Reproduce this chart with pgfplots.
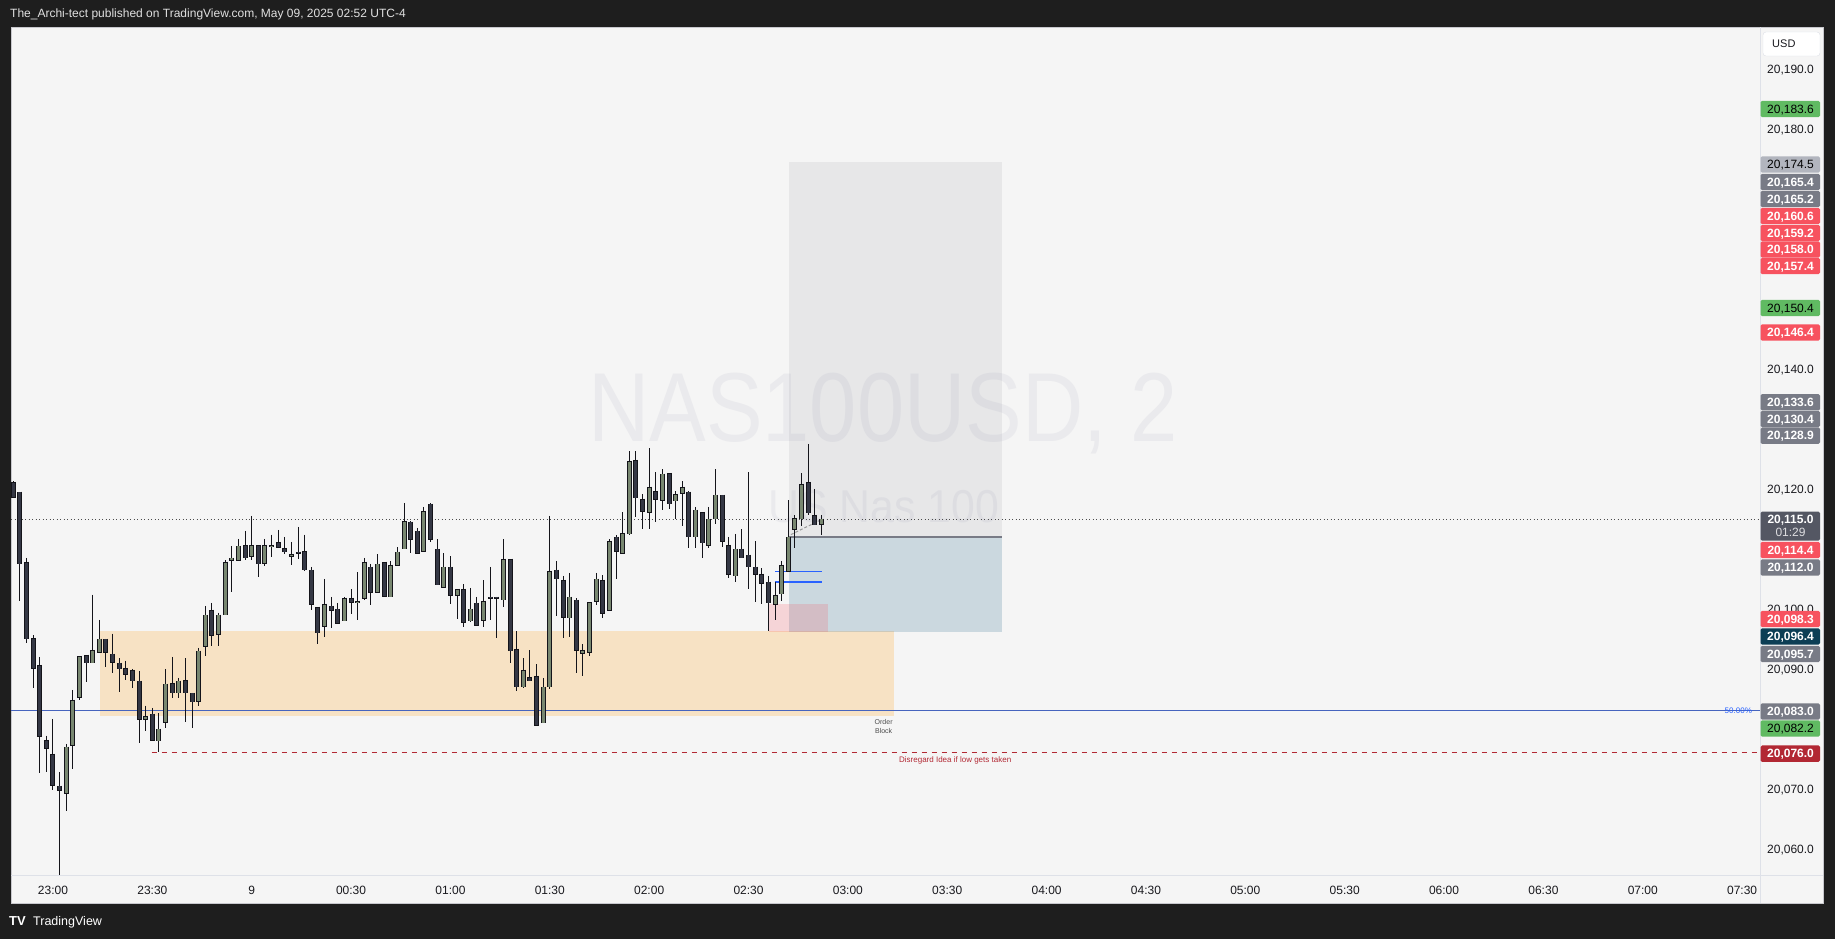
\documentclass[border=0pt]{standalone}
\usepackage{fontspec}
\setmainfont{Liberation Sans}
\usepackage{pgfplots}
\usepackage{pgfplotstable}
\pgfplotsset{compat=1.18}
\pgfplotsset{/pgf/number format/assume math mode=true}

\definecolor{tvdark}{RGB}{30,30,30}
\definecolor{panel}{RGB}{245,245,245}
\definecolor{sepline}{RGB}{222,225,232}
\definecolor{ticktext}{RGB}{25,25,30}
\definecolor{bull}{RGB}{120,135,112}
\definecolor{bear}{RGB}{52,55,68}
\definecolor{wick}{RGB}{20,20,26}
\definecolor{lblgreen}{RGB}{96,186,98}
\definecolor{lblred}{RGB}{247,82,95}
\definecolor{lblgray}{RGB}{120,123,134}
\definecolor{lbllight}{RGB}{178,181,190}
\definecolor{lblcur}{RGB}{84,87,99}
\definecolor{lblteal}{RGB}{12,62,85}
\definecolor{lbldred}{RGB}{178,40,51}
\definecolor{tvblue}{RGB}{41,98,255}
\definecolor{fibline}{RGB}{70,100,190}
\definecolor{stopzone}{RGB}{80,130,160}
\definecolor{obzone}{RGB}{255,152,0}
\definecolor{watermark}{RGB}{234,234,237}

% 2-minute candles, n = candle index (0 = 23:00)
\pgfplotstableread{
n o h l c
-6 20121.1 20121.3 20118.6 20118.6
-5 20119.5 20119.5 20101.3 20107.5
-4 20107.8 20108.5 20094.4 20095.0
-3 20095.1 20095.6 20086.9 20090.1
-2 20090.6 20092.0 20072.6 20078.8
-1 20078.1 20078.9 20072.9 20076.8
0 20075.8 20081.7 20069.9 20070.6
1 20070.5 20072.8 20055.6 20069.8
2 20069.3 20077.5 20066.3 20077.0
3 20077.3 20086.5 20073.4 20084.8
4 20085.3 20092.1 20084.9 20092.1
5 20092.3 20092.3 20087.8 20091.0
6 20091.0 20102.4 20091.0 20093.1
7 20092.8 20098.2 20092.8 20095.0
8 20095.0 20095.0 20090.4 20092.8
9 20092.5 20095.9 20089.3 20091.1
10 20091.0 20091.8 20086.1 20090.0
11 20090.1 20091.4 20088.1 20089.1
12 20089.8 20090.0 20086.8 20088.0
13 20088.0 20089.7 20077.6 20081.5
14 20081.6 20083.9 20079.6 20082.1
15 20082.5 20083.5 20078.1 20078.1
16 20078.0 20082.6 20076.1 20080.0
17 20081.1 20090.0 20080.1 20087.5
18 20087.6 20092.0 20085.1 20086.0
19 20086.0 20088.5 20085.1 20088.0
20 20088.1 20091.8 20081.1 20086.0
21 20086.0 20086.0 20080.1 20084.5
22 20084.6 20093.5 20083.8 20093.0
23 20093.8 20100.5 20092.1 20099.0
24 20099.8 20101.0 20093.9 20095.6
25 20095.8 20099.4 20093.8 20099.0
26 20099.0 20108.1 20099.0 20107.8
27 20108.0 20110.5 20102.9 20108.5
28 20108.1 20111.7 20108.1 20110.5
29 20110.6 20113.0 20108.1 20108.5
30 20108.8 20115.5 20108.1 20110.6
31 20110.6 20110.6 20105.3 20107.5
32 20107.6 20111.7 20107.1 20110.6
33 20110.4 20112.4 20108.6 20110.6
34 20111.1 20113.2 20110.3 20110.3
35 20110.1 20112.0 20109.1 20109.5
36 20108.8 20111.2 20107.3 20109.1
37 20109.5 20113.7 20108.4 20109.3
38 20109.6 20112.4 20106.3 20106.5
39 20106.5 20107.0 20099.8 20100.8
40 20100.3 20100.3 20094.1 20096.0
41 20097.1 20105.0 20095.4 20100.8
42 20100.5 20102.0 20096.9 20099.8
43 20100.0 20101.0 20097.6 20097.6
44 20098.0 20102.0 20098.0 20101.8
45 20101.8 20103.3 20099.1 20101.1
46 20101.0 20106.1 20098.1 20101.3
47 20101.8 20108.5 20101.5 20107.8
48 20107.0 20107.5 20100.6 20102.8
49 20102.8 20109.1 20102.6 20107.5
50 20107.8 20107.8 20102.1 20102.1
51 20102.0 20108.0 20102.0 20107.3
52 20107.3 20110.3 20107.1 20109.5
53 20110.0 20117.7 20110.0 20114.6
54 20114.5 20114.6 20109.3 20111.6
55 20113.0 20113.5 20109.3 20109.3
56 20109.6 20117.0 20109.5 20116.3
57 20117.5 20117.6 20111.1 20111.6
58 20110.0 20111.6 20104.0 20104.0
59 20103.5 20109.3 20103.5 20107.0
60 20107.0 20108.8 20100.8 20102.3
61 20102.3 20103.3 20098.4 20103.3
62 20103.3 20104.1 20097.0 20097.8
63 20098.0 20103.5 20097.8 20100.0
64 20101.0 20102.0 20097.1 20097.3
65 20098.1 20104.8 20097.0 20101.3
66 20102.0 20107.0 20098.1 20101.8
67 20102.0 20102.0 20095.1 20101.8
68 20101.5 20111.6 20100.3 20108.3
69 20108.3 20108.3 20091.0 20093.0
70 20093.3 20096.3 20086.3 20087.0
71 20087.0 20091.8 20086.8 20089.8
72 20088.6 20093.1 20088.0 20088.0
73 20088.8 20090.8 20080.6 20080.6
74 20081.0 20088.5 20081.0 20087.0
75 20087.0 20115.5 20086.6 20106.3
76 20106.5 20108.0 20098.9 20105.0
77 20104.8 20105.5 20095.1 20098.6
78 20098.5 20106.0 20095.3 20102.0
79 20101.5 20101.8 20089.3 20093.1
80 20092.6 20094.1 20088.8 20093.1
81 20092.8 20101.1 20092.1 20101.1
82 20101.3 20106.0 20100.6 20105.0
83 20104.8 20105.6 20098.5 20099.3
84 20099.8 20111.6 20099.8 20111.3
85 20112.0 20112.3 20105.0 20109.6
86 20109.3 20116.1 20109.3 20112.6
87 20112.5 20126.3 20112.3 20124.6
88 20124.8 20126.3 20115.3 20118.5
89 20118.3 20119.1 20113.3 20116.3
90 20116.1 20126.8 20113.3 20120.3
91 20119.6 20122.8 20114.5 20118.3
92 20118.1 20123.3 20116.5 20122.5
93 20122.6 20122.6 20116.6 20117.5
94 20118.0 20119.6 20115.0 20119.1
95 20119.3 20121.3 20113.8 20120.3
96 20119.5 20119.6 20110.1 20112.0
97 20112.0 20117.0 20110.1 20116.5
98 20116.1 20116.1 20108.5 20111.0
99 20110.6 20117.0 20110.1 20115.0
100 20115.0 20123.3 20114.1 20119.0
101 20119.0 20119.0 20110.3 20111.3
102 20110.6 20112.0 20105.1 20105.8
103 20105.5 20112.5 20104.5 20110.0
104 20110.0 20113.3 20108.5 20108.5
105 20109.0 20122.8 20103.3 20107.0
106 20107.0 20111.3 20101.1 20105.8
107 20105.8 20106.8 20100.8 20104.3
108 20104.5 20105.5 20096.4 20101.0
109 20100.8 20104.5 20098.1 20102.3
110 20102.5 20108.0 20101.3 20107.3
111 20106.3 20118.1 20106.3 20112.0
112 20113.3 20115.6 20110.1 20115.1
113 20115.0 20122.6 20113.8 20120.8
114 20121.1 20127.5 20115.6 20116.0
115 20115.6 20120.0 20114.0 20114.0
116 20114.1 20115.6 20112.3 20115.0
}\candles

\newcommand{\plfont}{\fontsize{12}{14}\selectfont}
% price label box on the right scale: y centre (pt), fill, text colour, text
\newcommand{\plabel}[4]{%
  \fill[#2, rounded corners=1.5pt] (1760.5pt,{#1pt-8.2pt}) rectangle (1820pt,{#1pt+8.2pt});
  \node[anchor=base, inner sep=0pt, text=#3, font=\plfont] at (1790.5pt,{#1pt-4.3pt}) {#4};}

\pgfplotsset{candle/.style={draw=none, mark=none, forget plot,
  error bars/.cd, y dir=minus, y explicit, error mark=none}}

\begin{document}
\begin{tikzpicture}
\fill[tvdark] (0pt,0pt) rectangle (1835pt,939pt);
\filldraw[fill=panel, draw={rgb,255:red,200;green,200;blue,205}, line width=0.8pt] (11pt,36pt) rectangle (1823pt,912pt);

\begin{axis}[
  at={(11pt,63pt)}, anchor=south west,
  scale only axis, width=1749pt, height=849pt,
  xmin=-6.34, xmax=257.7, ymin=20055.5, ymax=20197.0,
  scaled x ticks=false, scaled y ticks=false,
  axis line style={draw=none},
  tick style={draw=none},
  ticklabel style={font=\plfont, text=ticktext, text height=8.6pt, text depth=0pt},
  xtick={0,15,...,255},
  xticklabels={23:00,23:30,9,00:30,01:00,01:30,02:00,02:30,03:00,03:30,04:00,04:30,05:00,05:30,06:00,06:30,07:00,07:30},
  xticklabel style={anchor=center, yshift=-14pt},
  % only the scale values that the price labels leave visible
  ytick={20060,20070,20090,20100,20120,20140,20180,20190},
  yticklabels={{20,060.0},{20,070.0},{20,090.0},{20,100.0},{20,120.0},{20,140.0},{20,180.0},{20,190.0}},
  yticklabel pos=right,
  yticklabel style={anchor=center, xshift=30.5pt},
]
% watermark
\node[anchor=base, inner sep=0pt, text=watermark, font=\fontsize{98}{100}\selectfont]
  at (axis cs:125.3,20127.9) {\scalebox{0.866}[1]{NAS100USD, 2}};
\node[anchor=base, inner sep=0pt, text=watermark, font=\fontsize{46}{48}\selectfont]
  at (axis cs:125.4,20114.4) {\scalebox{0.93}[1]{US Nas 100}};

% order block zone
\addplot[draw=none, fill=obzone, fill opacity=0.2] coordinates {(7.1,20082.2) (126.9,20082.2) (126.9,20096.4) (7.1,20096.4)} -- cycle;
% position tool: target and stop zones
\addplot[draw=none, fill=lblgray, fill opacity=0.11] coordinates {(111.1,20112.0) (143.2,20112.0) (143.2,20174.5) (111.1,20174.5)} -- cycle;
\addplot[draw=none, fill=stopzone, fill opacity=0.25] coordinates {(111.1,20096.2) (143.2,20096.2) (143.2,20112.0) (111.1,20112.0)} -- cycle;
\addplot[draw=none, fill=lblred, fill opacity=0.2] coordinates {(108.1,20096.2) (117.0,20096.2) (117.0,20100.9) (108.1,20100.9)} -- cycle;

% horizontal lines
\addplot[fibline, line width=1pt] coordinates {(-6.34,20083.0) (257.7,20083.0)};
\addplot[lbldred, line width=1pt, dash pattern=on 5pt off 5pt] coordinates {(14.9,20076.0) (257.7,20076.0)};
\addplot[black!70, line width=0.9pt, dash pattern=on 1pt off 2.5pt] coordinates {(-6.34,20115.0) (257.7,20115.0)};
\addplot[lblgray, line width=1.3pt] coordinates {(111.1,20112.0) (143.2,20112.0)};
\addplot[tvblue, line width=1.2pt] coordinates {(109.0,20106.3) (116.1,20106.3)};
\addplot[tvblue, line width=1.2pt] coordinates {(109.0,20104.5) (116.1,20104.5)};
\addplot[black!40, line width=1pt, dash pattern=on 3pt off 2pt] coordinates {(111.4,20112.4) (116.0,20114.9)};

% wicks
\addplot[candle, error bar style={line width=1pt, draw=wick}]
  table[x=n, y=h, y error expr=\thisrow{h}-\thisrow{l}] {\candles};
% bodies: up candles
\addplot[restrict expr to domain={\thisrow{c}-\thisrow{o}}{0:1000},
  candle, error bar style={line width=5pt, draw=wick}]
  table[x=n, y expr=\thisrow{c}+0.08, y error expr=\thisrow{c}-\thisrow{o}+0.16] {\candles};
\addplot[restrict expr to domain={\thisrow{c}-\thisrow{o}}{0:1000},
  candle, error bar style={line width=3pt, draw=bull}]
  table[x=n, y expr=\thisrow{c}-0.08, y error expr={max(\thisrow{c}-\thisrow{o}-0.16,0)}] {\candles};
% bodies: down candles
\addplot[restrict expr to domain={\thisrow{o}-\thisrow{c}}{0.0001:1000},
  candle, error bar style={line width=5pt, draw=wick}]
  table[x=n, y expr=\thisrow{o}+0.08, y error expr=\thisrow{o}-\thisrow{c}+0.16] {\candles};
\addplot[restrict expr to domain={\thisrow{o}-\thisrow{c}}{0.0001:1000},
  candle, error bar style={line width=3pt, draw=bear}]
  table[x=n, y expr=\thisrow{o}-0.08, y error expr={max(\thisrow{o}-\thisrow{c}-0.16,0)}] {\candles};

% annotations
\node[anchor=north, inner sep=0pt, align=center, text=black!70, font=\fontsize{7}{8.5}\selectfont]
  at (axis cs:125.4,20081.6) {Order\\Block};
\node[inner sep=0pt, text=lbldred, font=\fontsize{8}{9}\selectfont]
  at (axis cs:136.2,20074.7) {Disregard Idea if low gets taken};
\node[anchor=east, inner sep=0pt, text=tvblue, font=\fontsize{8}{9}\selectfont]
  at (axis cs:256.5,20083.0) {50.00\%};
\end{axis}

% pane separators
\draw[sepline, line width=1pt] (1760pt,36pt) -- (1760pt,912pt);
\draw[sepline, line width=1pt] (11pt,63pt) -- (1823pt,63pt);

% currency box
\filldraw[fill=white, draw=sepline, rounded corners=3pt] (1763pt,883pt) rectangle (1820pt,907pt);
\node[anchor=base west, inner sep=0pt, text=ticktext, font=\fontsize{11}{12}\selectfont] at (1772pt,891pt) {USD};

% price labels on the scale
\plabel{830}{lblgreen}{black}{20,183.6}
\plabel{774.5}{lbllight}{black}{20,174.5}
\plabel{757}{lblgray}{white}{\bfseries 20,165.4}
\plabel{740}{lblgray}{white}{\bfseries 20,165.2}
\plabel{723}{lblred}{white}{\bfseries 20,160.6}
\plabel{706}{lblred}{white}{\bfseries 20,159.2}
\plabel{689.5}{lblred}{white}{\bfseries 20,158.0}
\plabel{673}{lblred}{white}{\bfseries 20,157.4}
\plabel{631}{lblgreen}{black}{20,150.4}
\plabel{606.5}{lblred}{white}{\bfseries 20,146.4}
\plabel{536.7}{lblgray}{white}{\bfseries 20,133.6}
\plabel{520}{lblgray}{white}{\bfseries 20,130.4}
\plabel{503.3}{lblgray}{white}{\bfseries 20,128.9}
\fill[lblcur, rounded corners=1.5pt] (1760.5pt,398.3pt) rectangle (1820pt,427.3pt);
\node[anchor=base, inner sep=0pt, text=white, font=\plfont\bfseries] at (1790.5pt,415.7pt) {20,115.0};
\node[anchor=base, inner sep=0pt, text=white!80!lblcur, font=\plfont] at (1790.5pt,402.7pt) {01:29};
\plabel{389}{lblred}{white}{\bfseries 20,114.4}
\plabel{371.5}{lblgray}{white}{\bfseries 20,112.0}
\plabel{320}{lblred}{white}{\bfseries 20,098.3}
\plabel{302.5}{lblteal}{white}{\bfseries 20,096.4}
\plabel{285}{lblgray}{white}{\bfseries 20,095.7}
\plabel{227.5}{lblgray}{white}{\bfseries 20,083.0}
\plabel{210.5}{lblgreen}{black}{20,082.2}
\plabel{185.3}{lbldred}{white}{\bfseries 20,076.0}

% header and footer
\node[anchor=base west, inner sep=0pt, text=white!88!black, font=\fontsize{12}{13}\selectfont]
  at (10pt,921pt) {The\_Archi-tect published on TradingView.com, May 09, 2025 02:52 UTC-4};
\node[anchor=base west, inner sep=0pt, text=white, font=\bfseries\fontsize{13}{14}\selectfont] at (9pt,13.5pt) {TV};
\node[anchor=base west, inner sep=0pt, text=white, font=\fontsize{12.5}{14}\selectfont] at (33pt,13.5pt) {TradingView};

\pgfresetboundingbox
\useasboundingbox (0pt,0pt) rectangle (1835pt,939pt);
\end{tikzpicture}
\end{document}
